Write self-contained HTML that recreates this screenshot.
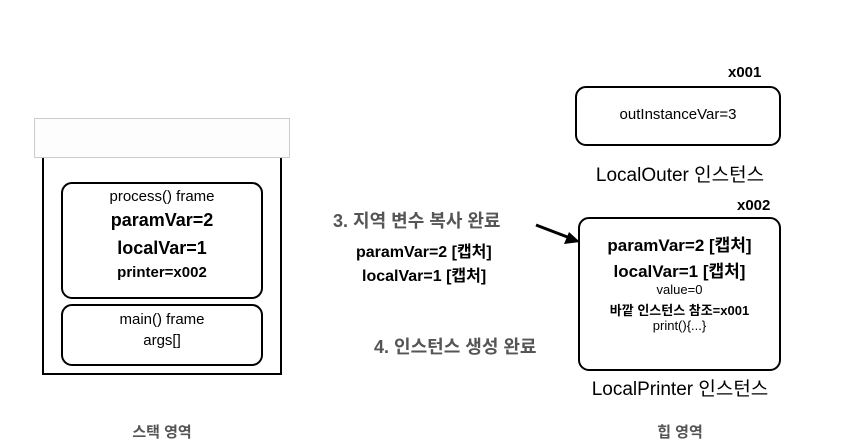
<!DOCTYPE html>
<html><head><meta charset="utf-8"><style>
body{margin:0;width:846px;height:447px;background:#fff;position:relative;overflow:hidden;font-family:"Liberation Sans","Noto Sans CJK KR",sans-serif;font-weight:bold;color:#000}
.a{position:absolute;white-space:nowrap}
.c{position:absolute;text-align:center;white-space:nowrap}
.box{position:absolute;border:2.5px solid #000;border-radius:11px;box-sizing:border-box}
</style></head><body>
<div class="a" style="left:34px;top:118px;width:256px;height:40px;border:1px solid #ccc;box-sizing:border-box;background:#fdfdfd"></div>
<div class="a" style="left:42px;top:158px;width:240px;height:217px;border:2.5px solid #000;border-top:none;box-sizing:border-box"></div>
<div class="box" style="left:61px;top:182px;width:202px;height:117px"></div>
<div class="c" style="left:61px;top:188px;width:202px;font-size:15px;font-weight:normal">process() frame</div>
<div class="c" style="left:61px;top:210px;width:202px;font-size:18px">paramVar=2</div>
<div class="c" style="left:61px;top:238px;width:202px;font-size:18px">localVar=1</div>
<div class="c" style="left:61px;top:264px;width:202px;font-size:15px">printer=x002</div>
<div class="box" style="left:61px;top:304px;width:202px;height:62px"></div>
<div class="c" style="left:61px;top:311px;width:202px;font-size:15px;font-weight:normal">main() frame</div>
<div class="c" style="left:61px;top:332px;width:202px;font-size:15px;font-weight:normal">args[]</div>
<div class="c" style="left:61px;top:421px;width:202px;font-size:15px;color:#555">스택 영역</div>

<div class="a" style="left:728px;top:64px;font-size:15px">x001</div>
<div class="box" style="left:575px;top:86px;width:206px;height:60px"></div>
<div class="c" style="left:575px;top:106px;width:206px;font-size:15px;font-weight:normal">outInstanceVar=3</div>
<div class="c" style="left:560px;top:160px;width:240px;font-size:19px;font-weight:normal">LocalOuter 인스턴스</div>

<div class="a" style="left:737px;top:197px;font-size:15px">x002</div>
<div class="box" style="left:578px;top:217px;width:203px;height:154px"></div>
<div class="c" style="left:578px;top:231px;width:203px;font-size:17px">paramVar=2 [캡처]</div>
<div class="c" style="left:578px;top:257px;width:203px;font-size:17px">localVar=1 [캡처]</div>
<div class="c" style="left:578px;top:282px;width:203px;font-size:13px;font-weight:normal">value=0</div>
<div class="c" style="left:578px;top:300px;width:203px;font-size:13px">바깥 인스턴스 참조=x001</div>
<div class="c" style="left:578px;top:318px;width:203px;font-size:13px;font-weight:normal">print(){...}</div>
<div class="c" style="left:560px;top:374px;width:240px;font-size:19px;font-weight:normal">LocalPrinter 인스턴스</div>
<div class="c" style="left:580px;top:421px;width:200px;font-size:15px;color:#555">힙 영역</div>

<div class="a" style="left:333px;top:207px;font-size:18px;color:#555">3. 지역 변수 복사 완료</div>
<div class="a" style="left:356px;top:238px;font-size:16px">paramVar=2 [캡처]</div>
<div class="a" style="left:362px;top:262px;font-size:16px">localVar=1 [캡처]</div>
<div class="a" style="left:374px;top:333px;font-size:18px;color:#555">4. 인스턴스 생성 완료</div>
<svg class="a" style="left:0;top:0" width="846" height="447"><line x1="536" y1="225" x2="570" y2="238" stroke="#000" stroke-width="3"/><polygon points="580,242 564,244 569,232" fill="#000"/></svg>
</body></html>
